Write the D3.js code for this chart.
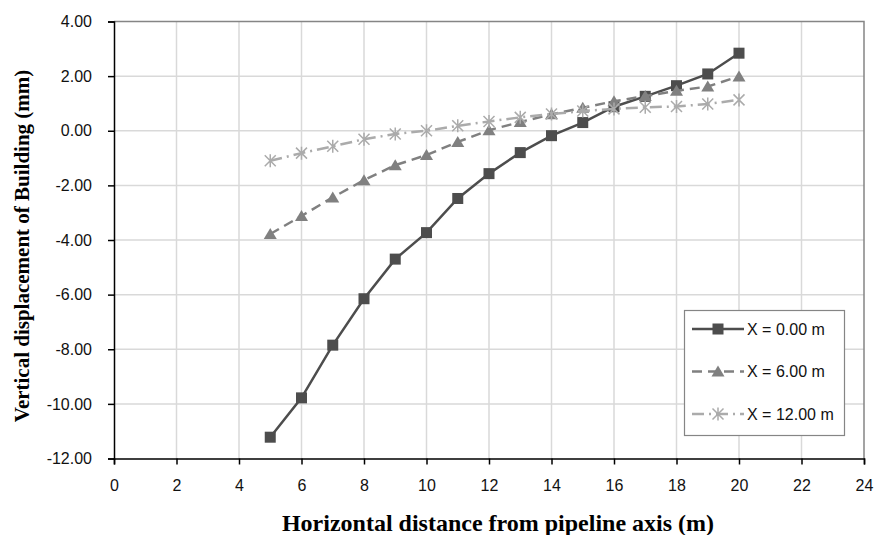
<!DOCTYPE html>
<html>
<head>
<meta charset="utf-8">
<script src="https://cdn.jsdelivr.net/npm/d3@7"></script>
<style>
  html, body { margin: 0; padding: 0; background: #fff; }
  svg { display: block; }
</style>
</head>
<body>
<svg id="chart" width="875" height="535"></svg>
<script>
// Horizontal distance from the pipeline axis (m)
const distances = [5, 6, 7, 8, 9, 10, 11, 12, 13, 14, 15, 16, 17, 18, 19, 20];

// Vertical displacement of the building (mm) for each section X
const dispX0  = [-11.22, -9.78, -7.85, -6.15, -4.70, -3.73, -2.48, -1.57, -0.80, -0.18, 0.30, 0.88, 1.26, 1.65, 2.08, 2.84];
const dispX6  = [-3.78, -3.12, -2.44, -1.81, -1.26, -0.89, -0.41, 0.02, 0.32, 0.60, 0.84, 1.08, 1.27, 1.46, 1.62, 1.99];
const dispX12 = [-1.10, -0.82, -0.57, -0.31, -0.12, 0.00, 0.18, 0.34, 0.49, 0.61, 0.72, 0.80, 0.86, 0.89, 0.98, 1.13];

const seriesNames = ["X = 0.00 m", "X = 6.00 m", "X = 12.00 m"];

const xTicks = [0, 2, 4, 6, 8, 10, 12, 14, 16, 18, 20, 22, 24];
const yTicks = [4, 2, 0, -2, -4, -6, -8, -10, -12];

const xTitle = "Horizontal distance from pipeline axis (m)";
const yTitle = "Vertical displacement of Building (mm)";

const svg = d3.select("#chart");
const plot = { left: 114, top: 21.5, right: 864, bottom: 458.5 };

const x = d3.scaleLinear().domain([0, 24]).range([plot.left, plot.right]);
const y = d3.scaleLinear().domain([-12, 4]).range([plot.bottom, plot.top]);

// grid
const grid = svg.append("g");
grid.selectAll("line.gx").data(xTicks.filter(d => d > 0 && d < 24)).join("line")
  .attr("x1", d => x(d)).attr("x2", d => x(d))
  .attr("y1", plot.top).attr("y2", plot.bottom)
  .attr("stroke", "#d9d9d9").attr("stroke-width", 1.5);
grid.selectAll("line.gy").data(yTicks.filter(d => d > -12 && d < 4)).join("line")
  .attr("x1", plot.left).attr("x2", plot.right)
  .attr("y1", d => y(d)).attr("y2", d => y(d))
  .attr("stroke", "#d9d9d9").attr("stroke-width", 1.5);

// plot frame (top and right)
svg.append("path")
  .attr("d", `M${plot.left},${plot.top}H${plot.right}V${plot.bottom}`)
  .attr("fill", "none").attr("stroke", "#858585").attr("stroke-width", 1.5);

// axes (plain hyphen for negative values)
const fmtY = d => d3.format(".2f")(d).replace("\u2212", "-");
const xAxis = svg.append("g")
  .attr("transform", `translate(0,${plot.bottom})`)
  .call(d3.axisBottom(x).tickValues(xTicks).tickSize(6).tickPadding(15).tickFormat(d3.format("d")));
const yAxis = svg.append("g")
  .attr("transform", `translate(${plot.left},0)`)
  .call(d3.axisLeft(y).tickValues(yTicks).tickSize(6).tickPadding(16).tickFormat(fmtY));

[xAxis, yAxis].forEach(a => {
  a.select(".domain").attr("stroke", "#000").attr("stroke-width", 1.5);
  a.selectAll(".tick line").attr("stroke", "#000").attr("stroke-width", 1.5);
  a.selectAll(".tick text")
    .attr("fill", "#111")
    .style("font-family", "'Liberation Sans', Arial, sans-serif")
    .style("font-size", "16px");
});

// series
const series = [
  { name: seriesNames[0], values: dispX0,  color: "#4d4d4d", dash: null,            marker: "square" },
  { name: seriesNames[1], values: dispX6,  color: "#808080", dash: "10,6",          marker: "triangle" },
  { name: seriesNames[2], values: dispX12, color: "#ababab", dash: "12,5,2,5",      marker: "star" }
];

const line = d3.line().x(d => x(d[0])).y(d => y(d[1]));

function drawMarker(g, kind, color, cx, cy) {
  if (kind === "square") {
    g.append("rect").attr("x", cx - 5.5).attr("y", cy - 5.5)
      .attr("width", 11).attr("height", 11).attr("fill", color);
  } else if (kind === "triangle") {
    g.append("path")
      .attr("d", `M${cx},${cy - 6}L${cx + 6.5},${cy + 5}L${cx - 6.5},${cy + 5}Z`)
      .attr("fill", color);
  } else {
    const r = 5.5;
    g.append("path")
      .attr("d", `M${cx - r},${cy - r}L${cx + r},${cy + r}M${cx - r},${cy + r}L${cx + r},${cy - r}M${cx},${cy - r - 1}V${cy + r + 1}`)
      .attr("stroke", color).attr("stroke-width", 1.5).attr("fill", "none");
  }
}

series.forEach(s => {
  const pts = distances.map((d, i) => [d, s.values[i]]);
  const g = svg.append("g");
  g.append("path").attr("d", line(pts))
    .attr("fill", "none").attr("stroke", s.color).attr("stroke-width", 2.5)
    .attr("stroke-dasharray", s.dash);
  pts.forEach(p => drawMarker(g, s.marker, s.color, x(p[0]), y(p[1])));
});

// legend
const lg = svg.append("g");
lg.append("rect").attr("x", 684.5).attr("y", 310.5).attr("width", 160).attr("height", 125)
  .attr("fill", "#fff").attr("stroke", "#858585").attr("stroke-width", 1.2);
series.forEach((s, i) => {
  const cy = 329 + i * 42.5;
  lg.append("line").attr("x1", 692).attr("x2", 744).attr("y1", cy).attr("y2", cy)
    .attr("stroke", s.color).attr("stroke-width", 2.5).attr("stroke-dasharray", s.dash);
  drawMarker(lg, s.marker, s.color, 718, cy);
  lg.append("text").attr("x", 747).attr("y", cy).attr("dy", "0.36em")
    .attr("fill", "#111")
    .style("font-family", "'Liberation Sans', Arial, sans-serif")
    .style("font-size", "16px")
    .text(s.name);
});

// axis titles
svg.append("text")
  .attr("x", 498).attr("y", 531)
  .attr("text-anchor", "middle")
  .style("font-family", "'Liberation Serif', 'Times New Roman', serif")
  .style("font-weight", "bold").style("font-size", "24px")
  .attr("fill", "#000")
  .text(xTitle);
svg.append("text")
  .attr("transform", `translate(29,${(plot.top + plot.bottom) / 2 + 6}) rotate(-90)`)
  .attr("text-anchor", "middle")
  .style("font-family", "'Liberation Serif', 'Times New Roman', serif")
  .style("font-weight", "bold").style("font-size", "21px")
  .attr("fill", "#000")
  .text(yTitle);
</script>
</body>
</html>
